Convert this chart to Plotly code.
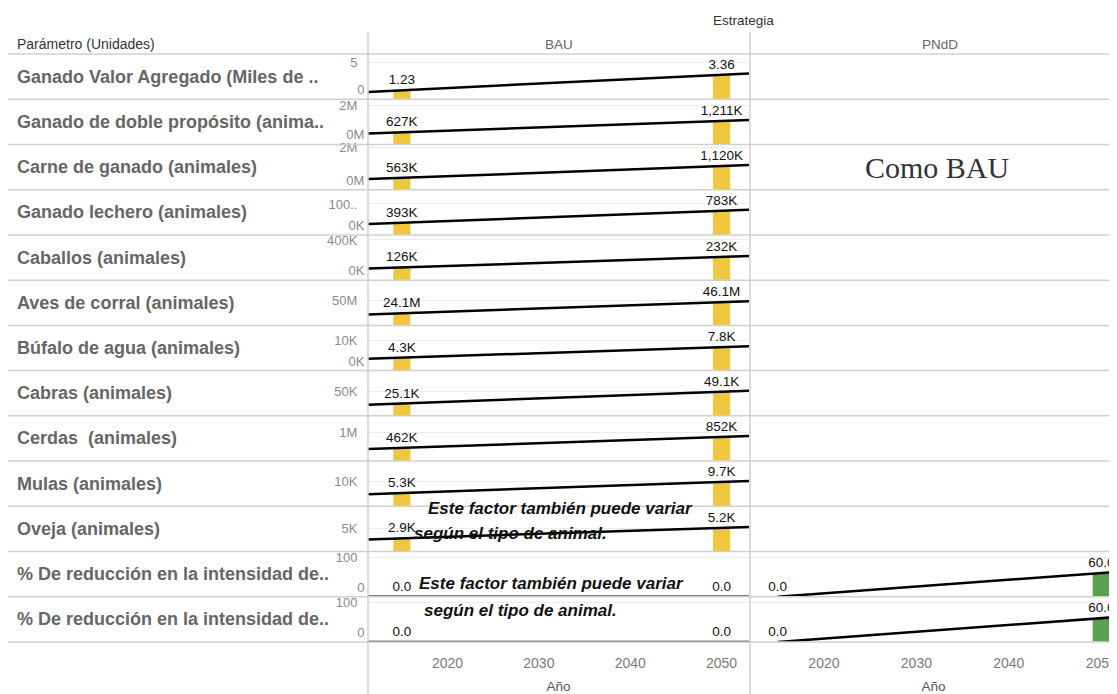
import numpy as np
import plotly.graph_objects as go
from plotly.subplots import make_subplots

years = [2015, 2050]

parametros = [
    "Ganado Valor Agregado (Miles de ..",
    "Ganado de doble propósito (anima..",
    "Carne de ganado (animales)",
    "Ganado lechero (animales)",
    "Caballos (animales)",
    "Aves de corral (animales)",
    "Búfalo de agua (animales)",
    "Cabras (animales)",
    "Cerdas  (animales)",
    "Mulas (animales)",
    "Oveja (animales)",
    "% De reducción en la intensidad de..",
    "% De reducción en la intensidad de..",
]

bau_2015 = [1.23, 627e3, 563e3, 393e3, 126e3, 24.1e6, 4.3e3, 25.1e3, 462e3, 5.3e3, 2.9e3, 0.0, 0.0]
bau_2050 = [3.36, 1211e3, 1120e3, 783e3, 232e3, 46.1e6, 7.8e3, 49.1e3, 852e3, 9.7e3, 5.2e3, 0.0, 0.0]
# PNdD only differs on the last two rows ("Como BAU" for the rest)
pndd_2015 = [None] * 11 + [0.0, 0.0]
pndd_2050 = [None] * 11 + [60.0, 60.0]

# tick labels shown on each row's axis
tick_top = [5, 2e6, 2e6, 1e6, 4e5, 5e7, 1e4, 5e4, 1e6, 1e4, 5e3, 100, 100]
tick_top_text = ["5", "2M", "2M", "100..", "400K", "50M", "10K", "50K", "1M", "10K", "5K", "100", "100"]
tick_zero_text = ["0", "0M", "0M", "0K", "0K", None, "0K", None, None, None, None, "0", "0"]

# label format per row: divisor, suffix, decimals
label_fmt = [(1, "", 2), (1e3, "K", 0), (1e3, "K", 0), (1e3, "K", 0), (1e3, "K", 0),
             (1e6, "M", 1), (1e3, "K", 1), (1e3, "K", 1), (1e3, "K", 0), (1e3, "K", 1),
             (1e3, "K", 1), (1, "", 1), (1, "", 1)]

# y range top for each row (bottom is 0)
y_top = [6.2, 2.34e6, 2.15e6, 1.46e6, 4.5e5, 9.0e7, 1.5e4, 9.2e4, 1.59e6, 1.8e4, 9.9e3, 114, 114]

x_bau = [2011.3, 2053.0]
x_pndd = [2012.0, 2051.7]

YELLOW = "#EEC73E"
GREEN = "#59A14F"
SEP = "#d0d0d0"
TICK_FONT = dict(size=13, color="#8a8a8a")

# page has an 8px body margin, so the figure is drawn 8px in from the corner
OFF = 8
FW, FH = 1117 - OFF, 694 - OFF
L, T, W, H = 368 - OFF, 54 - OFF, 749, 588


def px(x):
    return (x - OFF - L) / W


def py(y):
    return (T + H - (y - OFF)) / H


def fmt(v, spec):
    div, suf, dec = spec
    return f"{v / div:,.{dec}f}{suf}"


def trend(xs, ys, x_ends):
    k, b = np.polyfit(xs, ys, 1)
    return [k * x + b for x in x_ends]


def ax(letter, n):
    return letter if n == 1 else f"{letter}{n}"


n_rows = len(parametros)
fig = make_subplots(rows=n_rows, cols=2, shared_xaxes="columns",
                    vertical_spacing=0, horizontal_spacing=1 / W,
                    column_widths=[381, 367])

for i in range(n_rows):
    r = i + 1
    vals = [bau_2015[i], bau_2050[i]]
    fig.add_trace(go.Bar(
        x=years, y=vals, width=1.9, marker_color=YELLOW,
        text=[fmt(v, label_fmt[i]) for v in vals], textposition="outside",
        textfont=dict(size=13.5, color="#111"), cliponaxis=False, constraintext="none",
    ), row=r, col=1)
    fig.add_trace(go.Scatter(
        x=x_bau, y=trend(years, vals, x_bau), mode="lines",
        line=dict(color="black", width=2.5),
    ), row=r, col=1)

    if pndd_2015[i] is not None:
        pv = [pndd_2015[i], pndd_2050[i]]
        fig.add_trace(go.Bar(
            x=years, y=pv, width=1.9, marker_color=GREEN,
            text=[fmt(v, label_fmt[i]) for v in pv], textposition="outside",
            textfont=dict(size=13.5, color="#111"), cliponaxis=False, constraintext="none",
        ), row=r, col=2)
        xs = [years[0], x_pndd[1]]
        fig.add_trace(go.Scatter(
            x=xs, y=trend(years, pv, xs), mode="lines",
            line=dict(color="black", width=2.5),
        ), row=r, col=2)

    for c in (1, 2):
        fig.update_yaxes(range=[0, y_top[i]], tickvals=[tick_top[i]], ticktext=[tick_top_text[i]],
                         showticklabels=(c == 1), showgrid=True, gridcolor="#ececec",
                         zeroline=False, showline=False, ticks="outside", ticklen=7,
                         tickcolor="rgba(0,0,0,0)", tickfont=TICK_FONT,
                         fixedrange=True, row=r, col=c)

# zero labels sit just above the pane bottom: separate overlay axes
extra = 2 * n_rows
for i in range(n_rows):
    if tick_zero_text[i] is None:
        continue
    extra += 1
    base = 2 * i + 1
    fig.layout[f"yaxis{extra}"] = dict(
        overlaying=ax("y", base), anchor=ax("x", base), range=[0, y_top[i]],
        tickvals=[0], ticktext=[tick_zero_text[i]], ticklabelposition="outside top",
        showgrid=False, zeroline=False, showline=False, ticks="outside", ticklen=7,
        tickcolor="rgba(0,0,0,0)", tickfont=TICK_FONT, fixedrange=True,
    )
    fig.add_trace(go.Scatter(x=[years[0]], y=[None], mode="markers", hoverinfo="skip",
                             xaxis=ax("x", base), yaxis=ax("y", extra)))

fig.update_xaxes(tickvals=[2020, 2030, 2040, 2050], showgrid=False, zeroline=False,
                 showline=False, ticks="outside", ticklen=8, tickcolor="rgba(0,0,0,0)",
                 tickfont=dict(size=14, color="#7a7a7a"), ticklabeloverflow="allow")
fig.update_xaxes(range=x_bau, col=1)
fig.update_xaxes(range=x_pndd, col=2)
fig.update_xaxes(title=dict(text="Año", font=dict(size=13.5, color="#555"), standoff=14),
                 row=n_rows)

shapes = []
for k in range(n_rows + 1):
    shapes.append(dict(type="line", xref="paper", yref="paper", x0=px(8), x1=1,
                       y0=k / n_rows, y1=k / n_rows, line=dict(color=SEP, width=1.5)))
for xv in (0, px(750)):
    shapes.append(dict(type="line", xref="paper", yref="paper", x0=xv, x1=xv,
                       y0=py(694), y1=py(32), line=dict(color=SEP, width=1.5)))

annotations = []
for i, name in enumerate(parametros):
    annotations.append(dict(text=f"<b>{name}</b>", x=px(15), y=1 - (i + 0.5) / n_rows,
                            xanchor="left", font=dict(size=18, color="#666")))

annotations += [
    dict(text="Estrategia", x=px(743), y=py(20), font=dict(size=13.5, color="#333")),
    dict(text="Parámetro (Unidades)", x=px(15), y=py(44), xanchor="left",
         font=dict(size=14, color="#333")),
    dict(text="BAU", x=px(559), y=py(44), font=dict(size=13.5, color="#666")),
    dict(text="PNdD", x=px(940), y=py(44), font=dict(size=13.5, color="#666")),
    dict(text="Como BAU", x=px(937), y=py(167),
         font=dict(size=30, color="#333", family="Liberation Serif")),
]

nota_1 = "<b><i>Este factor también puede variar</i></b>"
nota_2 = "<b><i>según el tipo de animal.</i></b>"
for txt, xx, yy in [(nota_1, 560, 508), (nota_2, 510, 533), (nota_1, 551, 583), (nota_2, 520, 610)]:
    annotations.append(dict(text=txt, x=px(xx), y=py(yy), font=dict(size=17, color="#111")))

for a in annotations:
    a.setdefault("xref", "paper")
    a.setdefault("yref", "paper")
    a.setdefault("showarrow", False)
    a.setdefault("xanchor", "center")
    a.setdefault("yanchor", "middle")

fig.update_layout(
    width=FW, height=FH,
    margin=dict(l=L, r=0, t=T, b=FH - T - H),
    plot_bgcolor="white", paper_bgcolor="white",
    showlegend=False,
    font=dict(family="Liberation Sans, Arial, sans-serif"),
    shapes=shapes, annotations=annotations,
)

fig.write_html("out.html")
